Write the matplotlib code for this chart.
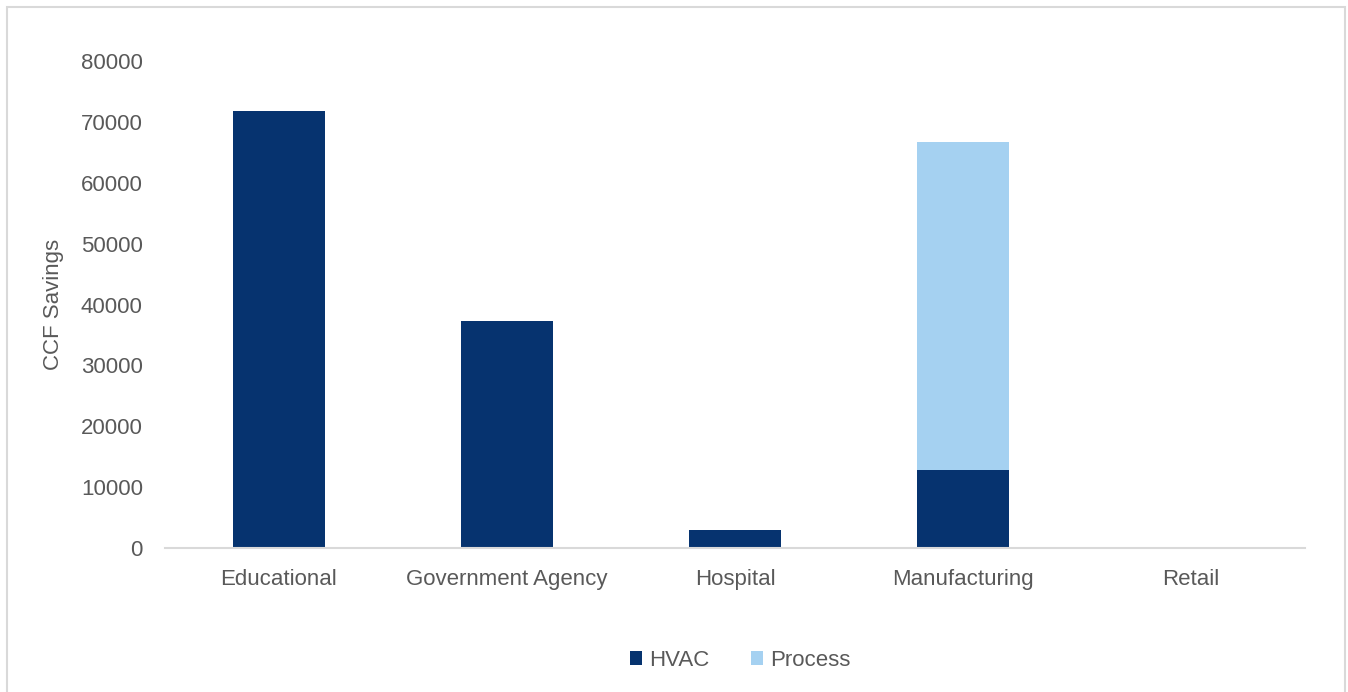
import numpy as np
import matplotlib.pyplot as plt
from matplotlib.patches import Rectangle

categories = ['Educational', 'Government Agency', 'Hospital', 'Manufacturing', 'Retail']
hvac = [71800, 37300, 3000, 12800, 0]
process = [0, 0, 0, 53900, 0]

plt.rcParams['font.family'] = ['Liberation Sans', 'DejaVu Sans']
text_color = '#595959'

fig = plt.figure(figsize=(13.48, 6.92), dpi=100)
ax = fig.add_axes([0.1224, 0.208, 0.8457, 0.7038])

x = np.arange(len(categories))
ax.bar(x, hvac, width=0.4, color='#06336f', label='HVAC')
ax.bar(x, process, width=0.4, bottom=hvac, color='#a5d1f1', label='Process')

ax.set_xlim(-0.5, len(categories) - 0.5)
ax.set_ylim(0, 80000)
ax.set_yticks(np.arange(0, 80001, 10000))
ax.set_xticks(x)
ax.set_xticklabels(categories)
ax.tick_params(axis='both', length=0, labelsize=16, colors=text_color)
ax.tick_params(axis='y', pad=16)
ax.tick_params(axis='x', pad=15)

for s in ['top', 'right', 'left']:
    ax.spines[s].set_visible(False)
ax.spines['bottom'].set_color('#d9d9d9')
ax.spines['bottom'].set_linewidth(1.5)

ax.set_ylabel('CCF Savings', fontsize=16, color=text_color, labelpad=12)

fig.legend(loc='center', bbox_to_anchor=(0.549, 0.046), ncol=2, frameon=False,
           fontsize=16, labelcolor=text_color, handlelength=0.55, handleheight=0.55,
           handletextpad=0.3, columnspacing=1.9)

# outer chart border
fig.patches.append(Rectangle((7 / 1348, -0.05), 1 - 10 / 1348, 1.05 - 7 / 692,
                             transform=fig.transFigure, fill=False,
                             edgecolor='#d9d9d9', linewidth=1.5))

plt.savefig('out.png')
